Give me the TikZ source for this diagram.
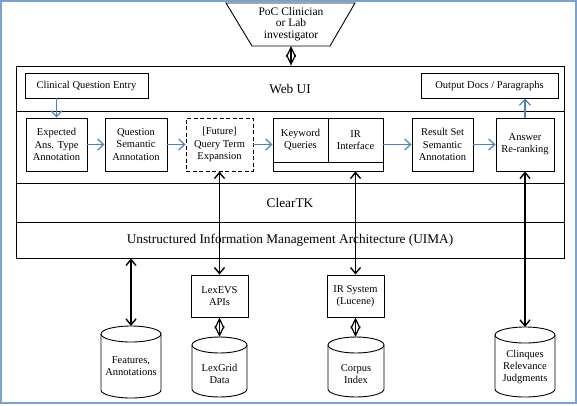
\documentclass[tikz,border=0pt]{standalone}
\usepackage{fontspec}
\setmainfont{Liberation Serif}
\usetikzlibrary{arrows.meta}
\definecolor{frameblue}{RGB}{122,160,212}
\definecolor{arrowblue}{RGB}{79,129,189}
\tikzset{
  box/.style={draw, line width=0.9pt, align=center, inner sep=0pt,
    font=\fontsize{10.5}{12.3}\selectfont},
  band/.style={draw, line width=0.8pt, minimum width=548pt, inner sep=0pt,
    font=\fontsize{13.3}{15}\selectfont},
  cyltext/.style={align=center, inner sep=0pt, font=\fontsize{10.5}{12.3}\selectfont},
  cyl/.style={draw, line width=0.9pt},
  bluearrow/.style={draw=arrowblue, line width=1.2pt, -{Straight Barb[length=6pt,width=11pt]}},
  blackarrow/.style={draw=black, line width=1.4pt, {Straight Barb[length=6pt,width=10pt]}-{Straight Barb[length=6pt,width=10pt]}},
  diamarrow/.style={draw=black, line width=1.2pt, {Straight Barb[length=9.5pt,width=9pt]}-{Straight Barb[length=9.5pt,width=9pt]}}
}
\newcommand\mycyl[4]{%
  \draw[cyl] (#1,#3+8) -- (#1,#4-8) arc[start angle=180,end angle=0,x radius={(#2-#1)/2},y radius=8] -- (#2,#3+8);
  \draw[cyl] ({(#1+#2)/2},#3+8) ellipse[x radius={(#2-#1)/2}, y radius=8];}
\begin{document}
\begin{tikzpicture}[x=1pt,y=-1pt]
\useasboundingbox (0,0) rectangle (577,405);
\draw[frameblue, line width=2pt] (1,1) rectangle (576,403);

% user
\draw[line width=0.9pt] (226,3) -- (355,3) -- (330,46) -- (252,46) -- cycle;
\node[align=center, inner sep=0pt, font=\fontsize{11.5}{11.3}\selectfont] (poc) at (291,24) {PoC Clinician\\or Lab\\investigator};
\coordinate (pocb) at (291,46);

% bands
\node[band, minimum height=45pt] (webui) at (290,88.5) {Web UI};
\node[band, minimum height=72pt] (mid) at (290,147) {};
\node[band, minimum height=39pt] (cleartk) at (290,202.5) {ClearTK};
\node[band, minimum height=36pt] (uima) at (290,240) {Unstructured Information Management Architecture (UIMA)};

% web UI boxes
\node[box, minimum width=123pt, minimum height=25pt] (cqe) at (86.5,85.5) {Clinical Question Entry};
\node[box, minimum width=137pt, minimum height=25pt] (out) at (489.5,85.5) {Output Docs / Paragraphs};

% pipeline
\node[box, minimum width=61pt, minimum height=53pt] (exp) at (56.5,144.5) {Expected\\Ans. Type\\Annotation};
\node[box, minimum width=62pt, minimum height=53pt] (qsa) at (136,144.5) {Question\\Semantic\\Annotation};
\node[box, dash pattern=on 4pt off 2.5pt, minimum width=67pt, minimum height=53pt] (fut) at (219.5,144.5) {[Future]\\Query Term\\Expansion};
\node[box, minimum width=110pt, minimum height=53pt] (kwir) at (328,144.5) {};
\node[box, minimum width=55pt, minimum height=44pt] (kw) at (300.5,140) {Keyword\\Queries};
\node[box, minimum width=55pt, minimum height=44pt] (iri) at (355.5,140) {IR\\Interface};
\node[box, minimum width=61pt, minimum height=53pt] (rss) at (442.5,144.5) {Result Set\\Semantic\\Annotation};
\node[box, minimum width=58pt, minimum height=53pt] (ans) at (525,144.5) {Answer\\Re-ranking};

% lower boxes
\node[box, minimum width=57pt, minimum height=42pt] (lex) at (219.5,296) {LexEVS\\APIs};
\node[box, minimum width=57pt, minimum height=42pt] (irs) at (355.5,296) {IR System\\(Lucene)};

% cylinders
\mycyl{101}{161}{326}{398}
\node[cyltext] (feat) at (131,366) {Features,\\Annotations};
\coordinate (feattop) at (131,326);
\mycyl{192}{247}{337}{397}
\node[cyltext] (lexgrid) at (219.5,374) {LexGrid\\Data};
\coordinate (lexgridtop) at (219.5,337);
\mycyl{328}{384}{337}{397}
\node[cyltext] (corpus) at (356,374) {Corpus\\Index};
\coordinate (corpustop) at (356,337);
\mycyl{495}{555}{327}{397}
\node[cyltext] (clq) at (525,367) {Clinques\\Relevance\\Judgments};
\coordinate (clqtop) at (525,327);

% blue arrows
\draw[bluearrow] (exp.north |- cqe.south) -- (exp.north);
\draw[bluearrow] (exp.east) -- (qsa.west);
\draw[bluearrow] (qsa.east) -- (fut.west);
\draw[bluearrow] (fut.east) -- (kwir.west);
\draw[bluearrow] (kwir.east) -- (rss.west);
\draw[bluearrow] (rss.east) -- (ans.west);
\draw[bluearrow] (ans.north) -- (ans.north |- out.south);

% black arrows
\draw[diamarrow] (pocb) -- (webui.north -| pocb);
\draw[blackarrow] (fut.south) -- (lex.north);
\draw[blackarrow] (iri.south |- kwir.south) -- (irs.north);
\draw[blackarrow] (ans.south) -- (clqtop);
\draw[blackarrow] (uima.south -| feattop) -- (feattop);
\draw[diamarrow] (lex.south) -- (lexgridtop);
\draw[diamarrow] (irs.south) -- (irs.south |- corpustop);
\end{tikzpicture}
\end{document}
